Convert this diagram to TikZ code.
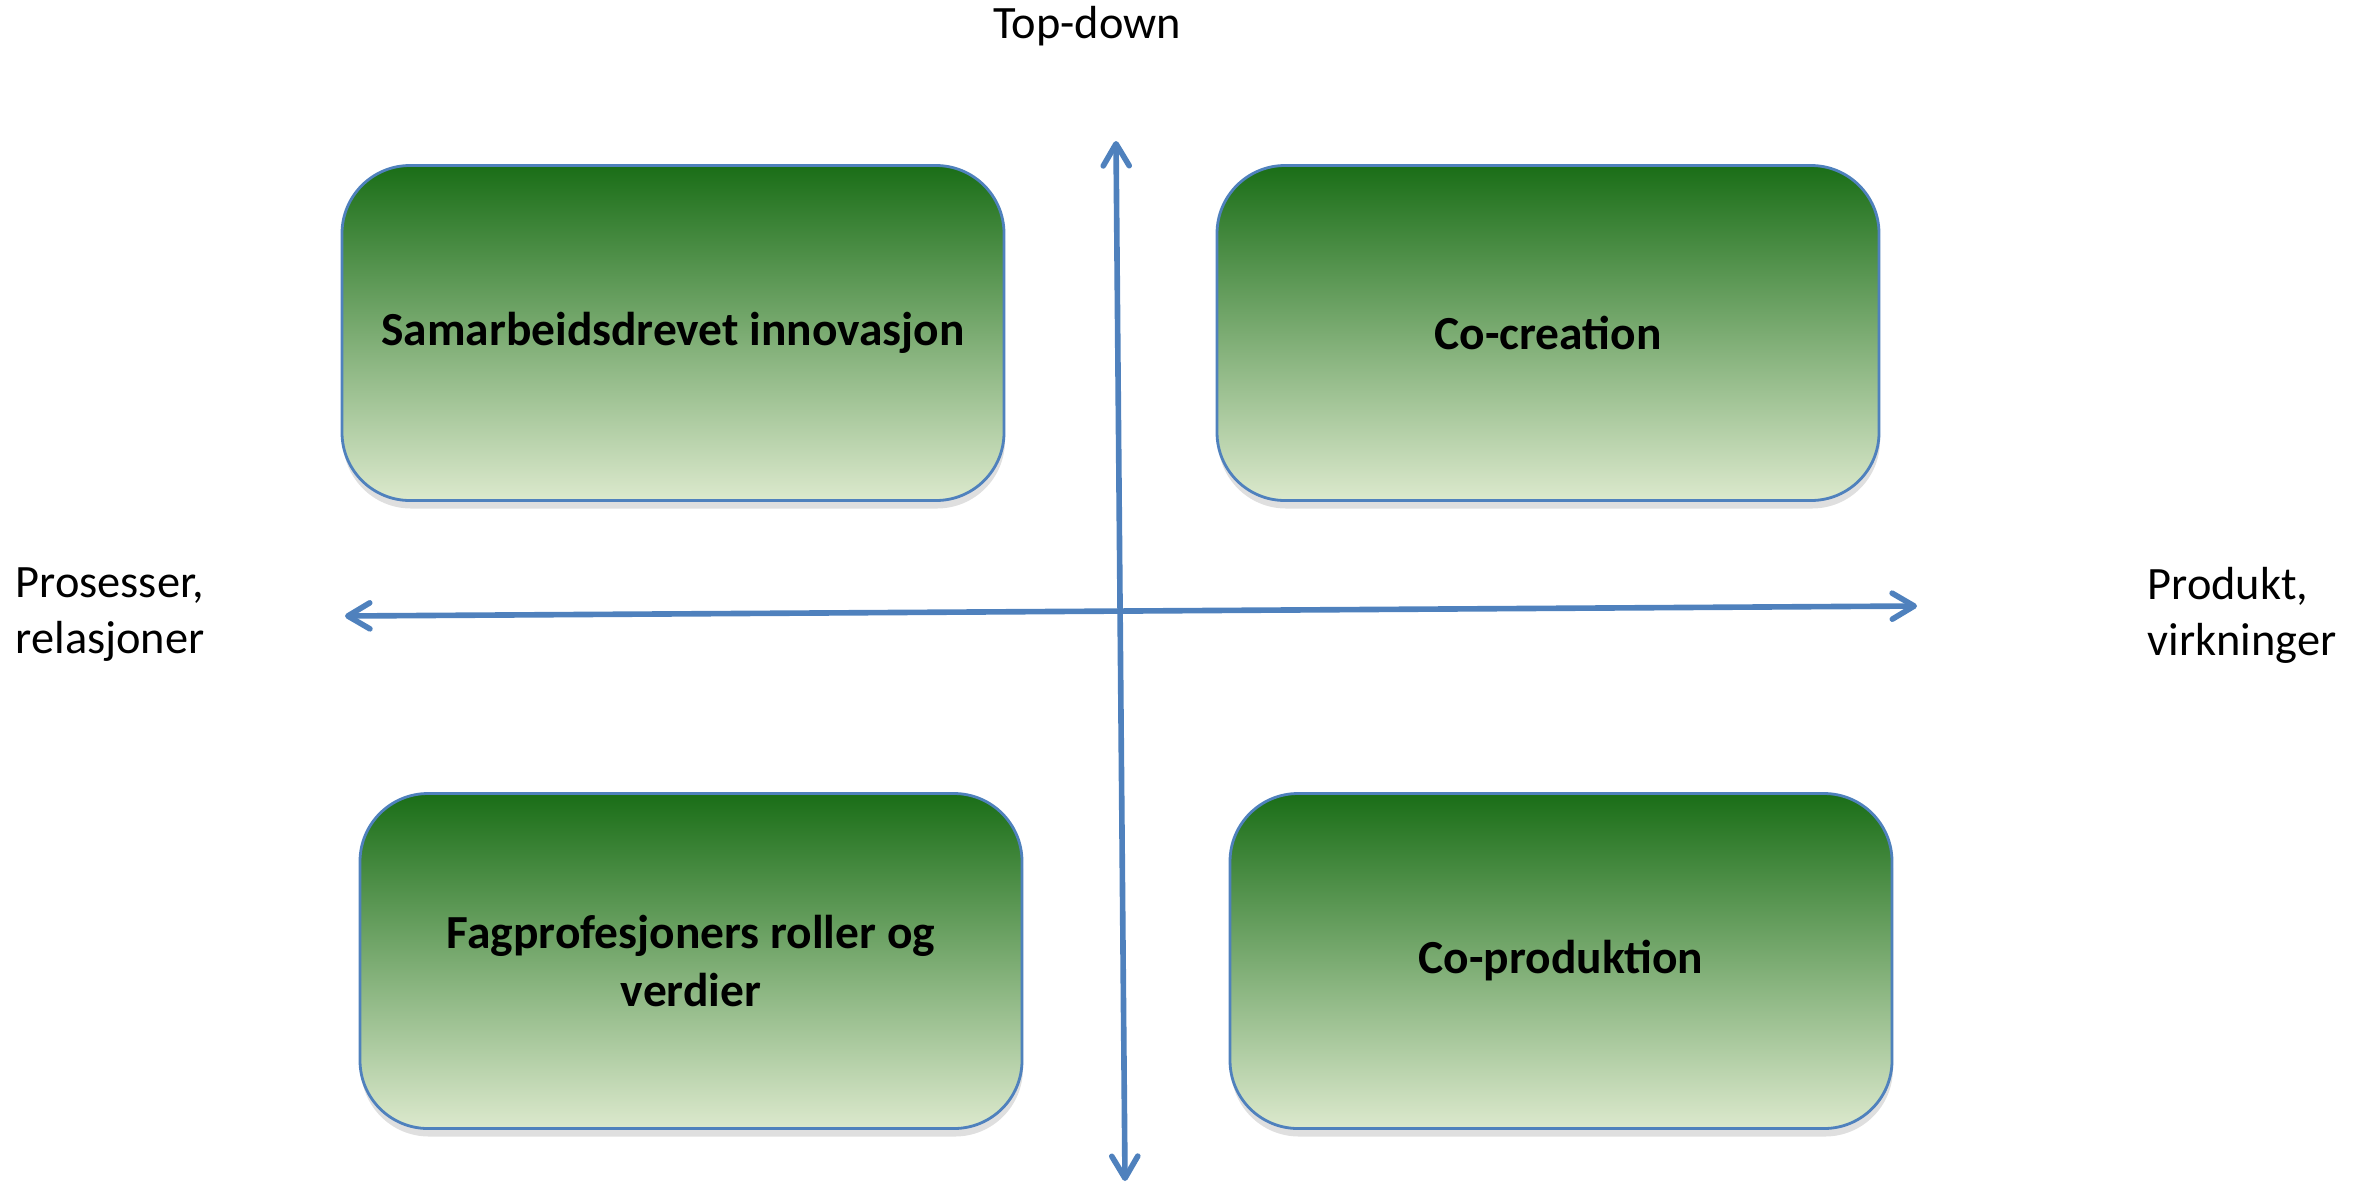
\documentclass[tikz,border=0pt]{standalone}
\usepackage{fontspec}
\setmainfont{Carlito}
\usepackage{tikz}
\usetikzlibrary{arrows.meta,shadows}
\definecolor{axisblue}{RGB}{79,129,189}
\definecolor{greentop}{RGB}{26,110,23}
\definecolor{greenmid}{RGB}{158,188,108}
\definecolor{greenbot}{RGB}{220,233,205}
\tikzstyle{quad}=[rectangle, draw=axisblue, line width=0.8pt, rounded corners=0.68cm,
        top color=greentop, middle color=greenmid, bottom color=greenbot,
        drop shadow={opacity=0.25, shadow xshift=0.1mm, shadow yshift=-0.8mm},
        minimum width=6.62cm, minimum height=3.35cm, align=center,
        font=\fontsize{13.5}{16.3}\selectfont\bfseries]
\tikzstyle{axis}=[draw=axisblue, line width=1.6pt,
        {Straight Barb[length=2.2mm, width=2.6mm, round]}-{Straight Barb[length=2.2mm, width=2.6mm, round]}]
\tikzstyle{lbl}=[font=\fontsize{13.2}{15.9}\selectfont, inner sep=0pt]

\begin{document}
\begin{tikzpicture}
\useasboundingbox (0,0) rectangle (23.74,-11.89);
% quadrants
\node [quad] (samarbeid) at (6.73,-3.33) {Samarbeidsdrevet innovasjon};
\node [quad] (cocreation) at (15.48,-3.33) {Co-creation};
\node [quad] (fagprof) at (6.91,-9.61) {Fagprofesjoners roller og\\verdier};
\node [quad] (coprod) at (15.61,-9.61) {Co-produktion};
% axes
\coordinate (top) at (11.16,-1.41);
\coordinate (bottom) at (11.25,-11.81);
\coordinate (left) at (3.45,-6.16);
\coordinate (right) at (19.17,-6.06);
\draw [axis] (bottom) -- (top);
\draw [axis] (left) -- (right);
% axis labels
\node [lbl] (topdown) at (10.87,-0.26) {Top-down};
\node [lbl, anchor=west, align=left] (prosess) at (0.15,-6.15) {Prosesser,\\relasjoner};
\node [lbl, anchor=west, align=left] (produkt) at (21.47,-6.15) {Produkt,\\virkninger};
\end{tikzpicture}
\end{document}
